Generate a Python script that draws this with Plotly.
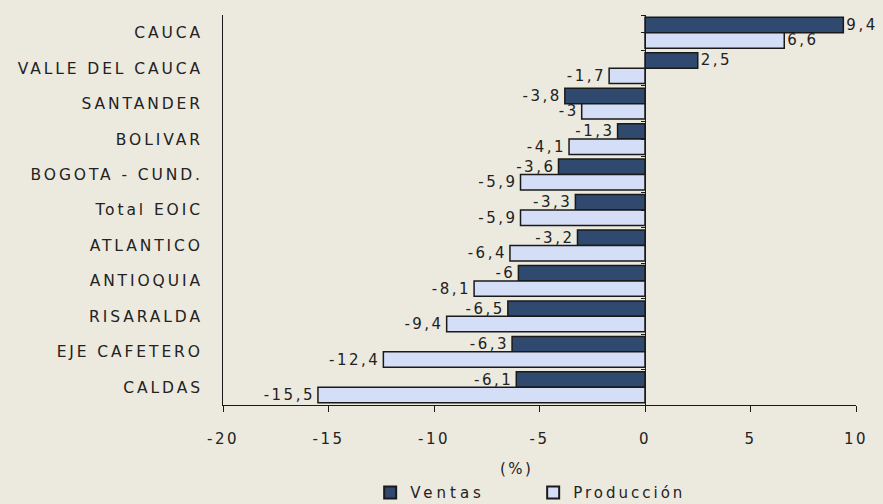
import plotly.graph_objects as go

categories = ["CAUCA", "VALLE DEL CAUCA", "SANTANDER", "BOLIVAR", "BOGOTA - CUND.",
              "Total EOIC", "ATLANTICO", "ANTIOQUIA", "RISARALDA", "EJE CAFETERO", "CALDAS"]
ventas = [9.4, 2.5, -3.8, -1.3, -4.1, -3.3, -3.2, -6.0, -6.5, -6.3, -6.1]
produccion = [6.6, -1.7, -3.0, -3.6, -5.9, -5.9, -6.4, -8.1, -9.4, -12.4, -15.5]
ventas_labels = ["9,4", "2,5", "-3,8", "-1,3", "-3,6", "-3,3", "-3,2", "-6", "-6,5", "-6,3", "-6,1"]
produccion_labels = ["6,6", "-1,7", "-3", "-4,1", "-5,9", "-5,9", "-6,4", "-8,1", "-9,4", "-12,4", "-15,5"]
x_ticks = [-20, -15, -10, -5, 0, 5, 10]

FONT = "DejaVu Sans"
BG = "#ECE9DF"


def sp(t, s=2.5):
    return f"<span style='letter-spacing:{s}px'>{t}</span>"


fig = go.Figure()
fig.add_trace(go.Bar(
    y=categories, x=ventas, orientation="h", name=sp("Ventas", 4),
    marker=dict(color="#2F4A6E", line=dict(color="#1A1A1A", width=1.5)),
    text=[sp(t) for t in ventas_labels], textposition="outside", constraintext="none",
    textfont=dict(family=FONT, size=15, color="#222222"), cliponaxis=False,
))
fig.add_trace(go.Bar(
    y=categories, x=produccion, orientation="h", name=sp("Producción", 3),
    marker=dict(color="#D4DEF6", line=dict(color="#1A1A1A", width=1.5)),
    text=[sp(t) for t in produccion_labels], textposition="outside", constraintext="none",
    textfont=dict(family=FONT, size=15, color="#222222"), cliponaxis=False,
))
# helper axis drawn at x = 0 with small tick marks
fig.add_trace(go.Scatter(x=[None], y=[None], yaxis="y2", showlegend=False, hoverinfo="skip"))

fig.update_layout(
    width=883, height=504,
    paper_bgcolor=BG, plot_bgcolor=BG,
    margin=dict(l=223, r=27, t=15, b=99, autoexpand=False),
    barmode="group", bargap=0.13, bargroupgap=0,
    font=dict(family=FONT, size=15, color="#222222"),
    showlegend=True,
    legend=dict(orientation="h", x=0.49, xanchor="center", y=-0.225, yanchor="middle",
                font=dict(family=FONT, size=15, color="#222222"), bgcolor="rgba(0,0,0,0)",
                itemwidth=30, itemsizing="constant", traceorder="normal", entrywidth=118),
    xaxis=dict(range=[-20, 10], tickvals=x_ticks, automargin=False,
               ticktext=[sp(str(v)) for v in x_ticks],
               showgrid=False, zeroline=False, showline=True, linecolor="#1A1A1A", linewidth=1,
               ticks="outside", ticklen=6, tickcolor="#1A1A1A", ticklabelstandoff=14,
               tickfont=dict(family=FONT, size=15, color="#222222")),
    yaxis=dict(type="category", categoryorder="array", categoryarray=categories,
               autorange="reversed", tickvals=categories, automargin=False,
               ticktext=[sp(c, 2.9) for c in categories],
               showgrid=False, zeroline=False, showline=True, linecolor="#1A1A1A", linewidth=1,
               ticks="", ticklabelstandoff=16,
               tickfont=dict(family=FONT, size=15.5, color="#222222")),
    yaxis2=dict(overlaying="y", anchor="free", position=20 / 30, range=[0, 11], dtick=0.5,
                showticklabels=False, showgrid=False, zeroline=False, showline=True,
                linecolor="#1A1A1A", linewidth=1, ticks="outside", ticklen=4,
                tickcolor="#1A1A1A", side="left", automargin=False),
    annotations=[dict(text=sp("(%)"), xref="paper", yref="paper", x=0.463, y=-0.163,
                      xanchor="center", yanchor="middle", showarrow=False,
                      font=dict(family=FONT, size=15, color="#222222"))],
)

fig.write_html(
    "out.html",
    config={"displayModeBar": False},
    post_script="document.body.style.margin='0';document.body.style.background='#ECE9DF';",
)
